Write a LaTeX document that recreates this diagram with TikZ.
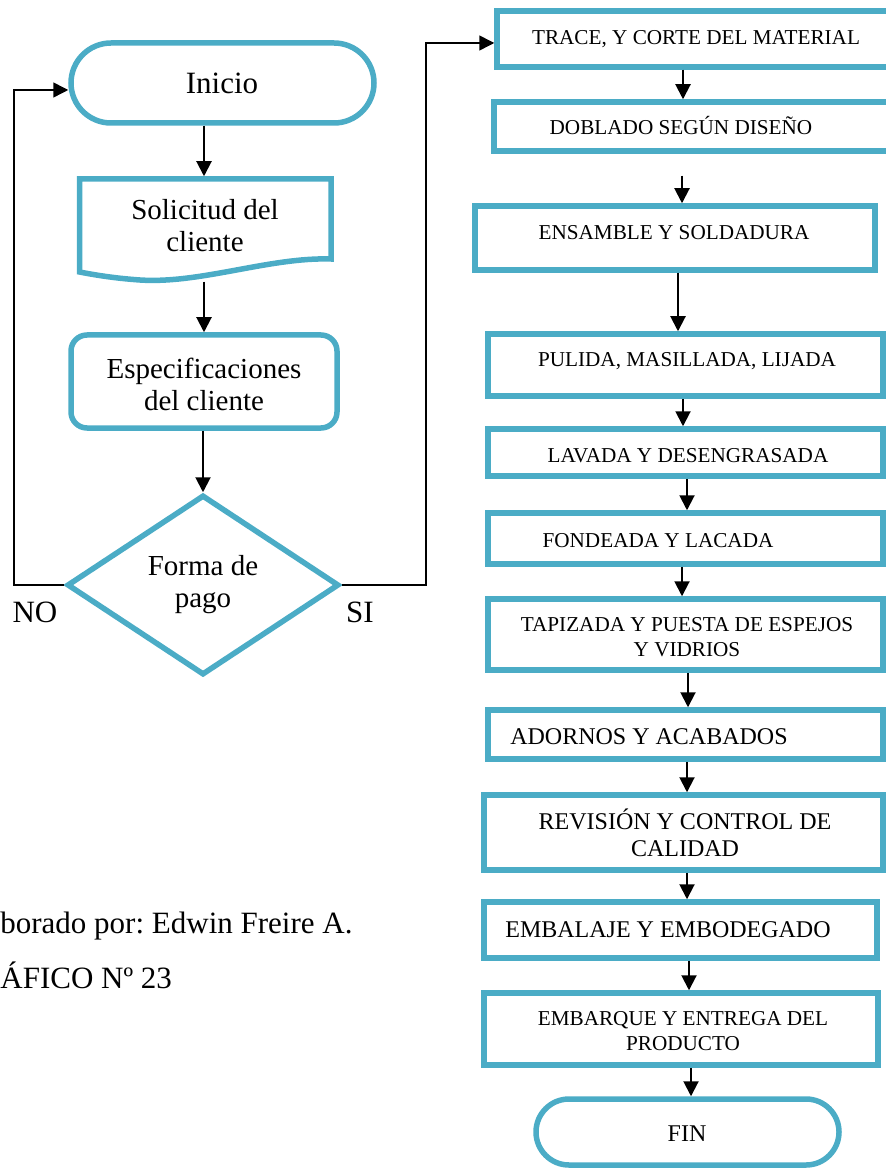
\documentclass[tikz,border=0pt]{standalone}
\usepackage{fontspec}
\setmainfont{Liberation Serif}
\usetikzlibrary{arrows.meta,fit,shapes.geometric}
\definecolor{boxblue}{HTML}{4BACC6}
\frenchspacing
\begin{document}
\begin{tikzpicture}[x=0.5pt,y=-0.5pt,
  bx/.style={draw=boxblue,line width=2.75pt,inner sep=0pt},
  txt/.style={inner sep=0pt,align=center},
  big/.style={font=\fontsize{14.5}{16}\selectfont},
  bigger/.style={font=\fontsize{15.5}{17}\selectfont},
  sm/.style={font=\fontsize{10.6}{12.5}\selectfont},
  md/.style={font=\fontsize{12}{13.5}\selectfont},
  arr/.style={-{Triangle[length=7.5pt,width=7.5pt]},line width=1pt},
  lp/.style={line width=0.75pt},
]
\clip (0,0) rectangle (886,1170);

% ---------- left column ----------
\node[bx,rounded corners=20pt,fit={(71,43) (374,123)}] (inicio) {};
\node[txt,bigger,anchor=base] (tinicio) at (222,94) {Inicio};

\node[inner sep=0pt,outer sep=1.375pt,fit={(79.5,179) (331,279)}] (sol) {};
\draw[draw=boxblue,line width=2.75pt,line join=miter]
  (79.5,272) -- (79.5,179) -- (331,179) -- (331,259)
  .. controls (270,257) and (200,284) .. (140,280)
  .. controls (115,278.3) and (95,275) .. (79.5,272) -- cycle;
\node[txt,big] (tsol) at (205,226) {Solicitud del\\cliente};

\node[bx,rounded corners=8pt,fit={(71,335) (337,428)}] (esp) {};
\node[txt,big] (tesp) at (204,384) {Especificaciones\\del cliente};

\node[bx,diamond,aspect=1.5,minimum width=136pt,minimum height=90pt,
      align=center,big] (dec) at (203,585) {Forma de\\pago};

% ---------- right column ----------
\node[bx,fit={(497,11) (892,67)}] (trace) {};
\node[txt,sm,anchor=base] (ttrace) at (696,45) {TRACE, Y CORTE DEL MATERIAL};

\node[bx,fit={(494,102) (892,151)}] (dobl) {};
\node[txt,sm,anchor=base] (tdobl) at (681,135) {DOBLADO SEGÚN DISEÑO};

\node[bx,fit={(475,206) (875,270)}] (ens) {};
\node[txt,sm,anchor=base] (tens) at (674,240) {ENSAMBLE Y SOLDADURA};

\node[bx,fit={(488,334) (883,396)}] (pul) {};
\node[txt,sm,anchor=base] (tpul) at (687,367) {PULIDA, MASILLADA, LIJADA};

\node[bx,fit={(488,429) (883,476)}] (lav) {};
\node[txt,sm,anchor=base] (tlav) at (688,462) {LAVADA Y DESENGRASADA};

\node[bx,fit={(488,513) (883,564)}] (fon) {};
\node[txt,sm,anchor=base] (tfon) at (658,547) {FONDEADA Y LACADA};

\node[bx,fit={(488,599) (883,670)}] (tap) {};
\node[txt,sm] (ttap) at (687,637) {TAPIZADA Y PUESTA DE ESPEJOS\\Y VIDRIOS};

\node[bx,fit={(488,710) (883,759)}] (ado) {};
\node[txt,md,anchor=base] (tado) at (649,744) {ADORNOS Y ACABADOS};

\node[bx,fit={(484,795) (883,870)}] (rev) {};
\node[txt,md] (trev) at (685,833) {REVISIÓN Y CONTROL DE\\CALIDAD};

\node[bx,fit={(484,902) (877,958)}] (emb) {};
\node[txt,md,anchor=base] (temb) at (668,937) {EMBALAJE Y EMBODEGADO};

\node[bx,fit={(484,993) (878,1065)}] (embq) {};
\node[txt,sm] (tembq) at (683,1031) {EMBARQUE Y ENTREGA DEL\\PRODUCTO};

\node[bx,rounded corners=16.5pt,fit={(536,1099) (839,1165)}] (fin) {};
\node[txt,md,anchor=base] (tfin) at (687,1141) {FIN};

% ---------- connectors ----------
\coordinate (colx) at (204,0);
\draw[arr] (inicio.south -| colx) -- (sol.north -| colx);
\draw[arr] (sol.south -| colx) -- (esp.north -| colx);
\draw[arr] (esp.south -| dec.north) -- (dec.north);

\coordinate (nocorner) at (14,586);
\coordinate (sicorner) at (426,586);
\draw[arr,lp] (dec.west) -- (dec.west -| nocorner) |- ([yshift=-3.5pt]inicio.west);
\draw[arr,lp] (dec.east) -- (dec.east -| sicorner) |- ([yshift=-2pt]trace.west);

\node[txt,bigger,anchor=base] (no) at (35,622) {NO};
\node[txt,bigger,anchor=base] (si) at (360,622) {SI};

\node[txt,bigger,anchor=base west] (elab) at (0,933) {borado por: Edwin Freire A.};
\node[txt,bigger,anchor=base west] (graf) at (0,988) {ÁFICO Nº 23};

\coordinate (r1) at (683,0);
\coordinate (r2) at (682,0);
\coordinate (r3) at (678,0);
\coordinate (r4) at (683,0);
\coordinate (r5) at (687,0);
\coordinate (r6) at (682,0);
\coordinate (r7) at (688,0);
\coordinate (r8) at (687,0);
\coordinate (r9) at (687,0);
\coordinate (r10) at (689,0);
\coordinate (r11) at (691,0);
\draw[arr] (trace.south -| r1) -- (dobl.north -| r1);
\draw[arr,shorten <=11pt] (dobl.south -| r2) -- (ens.north -| r2);
\draw[arr] (ens.south -| r3) -- (pul.north -| r3);
\draw[arr] (pul.south -| r4) -- (lav.north -| r4);
\draw[arr] (lav.south -| r5) -- (fon.north -| r5);
\draw[arr] (fon.south -| r6) -- (tap.north -| r6);
\draw[arr] (tap.south -| r7) -- (ado.north -| r7);
\draw[arr] (ado.south -| r8) -- (rev.north -| r8);
\draw[arr] (rev.south -| r9) -- (emb.north -| r9);
\draw[arr] (emb.south -| r10) -- (embq.north -| r10);
\draw[arr] (embq.south -| r11) -- (fin.north -| r11);
\end{tikzpicture}
\end{document}
